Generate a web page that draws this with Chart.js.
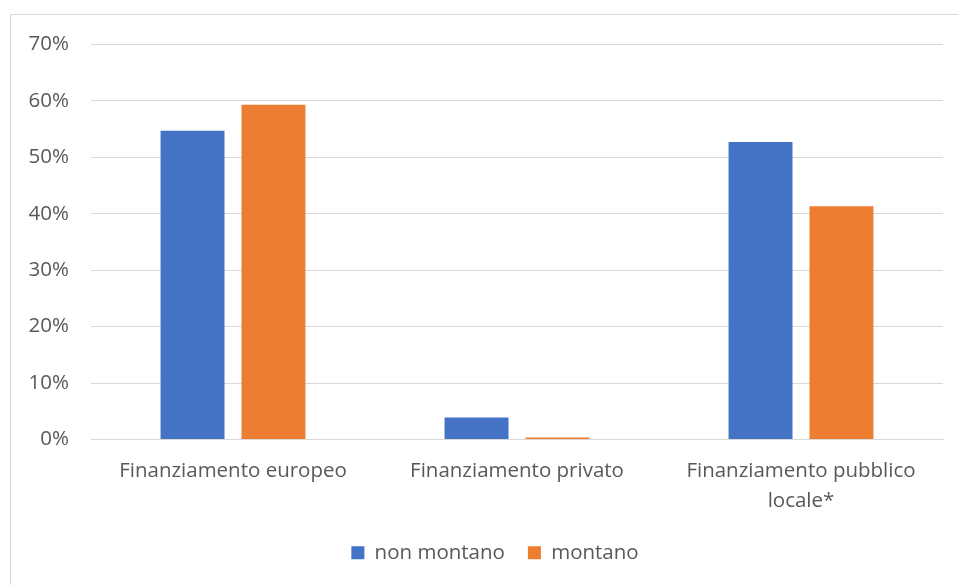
<!DOCTYPE html>
<html>
<head>
<meta charset="utf-8">
<script src="https://cdn.jsdelivr.net/npm/chart.js@4"></script>
<style>
  html, body { margin: 0; padding: 0; background: #fff; overflow: hidden; }
  #box {
    position: absolute; left: 10px; top: 14px;
    width: 960px; height: 580px;
    border: 1px solid #d9d9d9; box-sizing: border-box;
  }
  #wrap { position: absolute; left: 0; top: -5px; width: 958px; height: 575px; }
</style>
</head>
<body>
<div id="box"><div id="wrap"><canvas id="chart"></canvas></div></div>
<script>
// categories and series (percent values)
const categories = [
    'Finanziamento europeo',
    'Finanziamento privato',
    ['Finanziamento pubblico', 'locale*']
];
const nonMontano = [54.7, 3.9, 52.7];
const montano = [59.3, 0.35, 41.3];
const yTicks = [0, 10, 20, 30, 40, 50, 60, 70];

const textColor = '#595959';
const gridColor = '#d9d9d9';
const fontFamily = "'Open Sans', 'Liberation Sans', sans-serif";
const fontSize = 20.5;

// the original legend sits a bit right of the canvas centre
const shiftLegend = {
    id: 'shiftLegend',
    afterLayout: chart => {
        chart.legend.left += 18;
        chart.legend.right += 18;
    }
};

const ctx = document.getElementById('chart').getContext('2d');
const chart = new Chart(ctx, {
    type: 'bar',
    data: {
        labels: categories,
        datasets: [
            {
                label: 'non montano',
                data: nonMontano,
                backgroundColor: '#4472C4',
                categoryPercentage: 0.57,
                barPercentage: 0.79
            },
            {
                label: 'montano',
                data: montano,
                backgroundColor: '#ED7D31',
                categoryPercentage: 0.57,
                barPercentage: 0.79
            }
        ]
    },
    plugins: [shiftLegend],
    options: {
        responsive: true,
        maintainAspectRatio: false,
        animation: false,
        layout: {
            padding: { top: 19, right: 26, bottom: 12, left: 0 }
        },
        plugins: {
            tooltip: { enabled: false },
            legend: {
                position: 'bottom',
                labels: {
                    color: textColor,
                    font: { family: fontFamily, size: fontSize },
                    boxWidth: 13,
                    boxHeight: 13,
                    padding: 23
                }
            }
        },
        scales: {
            x: {
                grid: { display: false },
                border: { display: true, color: gridColor, width: 1 },
                ticks: {
                    color: textColor,
                    font: { family: fontFamily, size: fontSize, lineHeight: 1.45 },
                    padding: 9,
                    maxRotation: 0,
                    autoSkip: false
                },
                afterFit: scale => { scale.height = 80; }
            },
            y: {
                min: 0,
                max: 70,
                afterBuildTicks: scale => {
                    scale.ticks = yTicks.map(v => ({ value: v }));
                },
                grid: { color: gridColor, lineWidth: 1, drawTicks: false },
                border: { display: false },
                ticks: {
                    color: textColor,
                    font: { family: fontFamily, size: fontSize },
                    padding: 22,
                    callback: v => v + '%'
                },
                afterFit: scale => { scale.width = 80; }
            }
        }
    }
});
</script>
</body>
</html>
